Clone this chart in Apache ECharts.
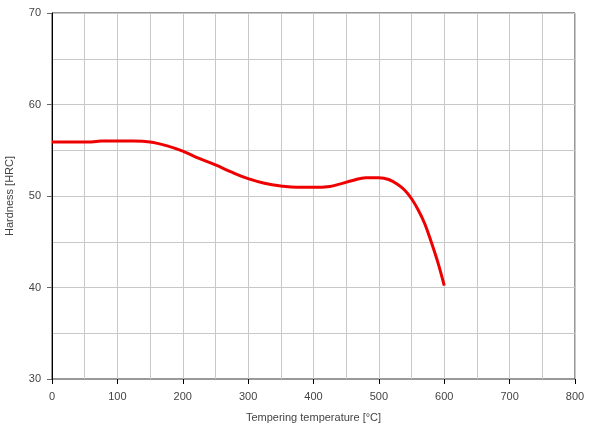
<!DOCTYPE html>
<html><head><meta charset="utf-8">
<script src="https://cdn.jsdelivr.net/npm/echarts@6/dist/echarts.min.js"></script>
<style>html,body{margin:0;padding:0;background:#fff}#c{width:593px;height:428px}</style>
</head><body><div id="c"></div>
<script>
const temps =    [0, 50, 60, 75, 100, 125, 150, 175, 200, 225, 250, 275, 300, 325, 350, 375, 400, 425, 440, 460, 480, 500, 515, 530, 540, 550, 560, 570, 580, 590, 600];
const hardness = [55.9, 55.9, 55.9, 56.0, 56.0, 56.0, 55.9, 55.5, 54.9, 54.1, 53.4, 52.6, 51.9, 51.4, 51.1, 50.95, 50.95, 51.05, 51.3, 51.7, 52.0, 52.0, 51.8, 51.2, 50.6, 49.7, 48.5, 47.0, 45.0, 42.8, 40.2];
const xTitle = 'Tempering temperature [°C]';
const yTitle = 'Hardness [HRC]';

const chart = echarts.init(document.getElementById('c'), null, {renderer: 'canvas'});
const font = 'Liberation Sans, Arial, sans-serif';
chart.setOption({
  animation: false,
  backgroundColor: '#fff',
  grid: {left: 52, right: 18, top: 13, bottom: 49, containLabel: false, outerBoundsMode: 'none',
         show: true, borderColor: '#333', borderWidth: 1, backgroundColor: 'transparent'},
  xAxis: {
    type: 'value', min: 0, max: 800, interval: 100,
    name: xTitle, nameLocation: 'middle', nameGap: 33,
    nameTextStyle: {fontFamily: font, fontSize: 11, color: '#444'},
    axisLine: {show: true, lineStyle: {color: '#999', width: 1}},
    axisTick: {show: true, length: 5, lineStyle: {color: '#000'}},
    axisLabel: {fontFamily: font, fontSize: 11, color: '#444', margin: 12},
    splitLine: {show: true, lineStyle: {color: '#c8c8c8', width: 1}},
    minorTick: {show: false, splitNumber: 2},
    minorSplitLine: {show: true, lineStyle: {color: '#c8c8c8', width: 1}}
  },
  yAxis: {
    type: 'value', min: 30, max: 70, interval: 10,
    name: yTitle, nameLocation: 'middle', nameGap: 37, nameRotate: 90,
    nameTextStyle: {fontFamily: font, fontSize: 11, color: '#444'},
    axisLine: {show: true, lineStyle: {color: '#000', width: 1}},
    axisTick: {show: true, length: 5, lineStyle: {color: '#666'}},
    axisLabel: {fontFamily: font, fontSize: 11, color: '#444', margin: 11},
    splitLine: {show: true, lineStyle: {color: '#c8c8c8', width: 1}},
    minorTick: {show: false, splitNumber: 2},
    minorSplitLine: {show: true, lineStyle: {color: '#c8c8c8', width: 1}}
  },
  series: [{
    type: 'line',
    data: temps.map((t, i) => [t, hardness[i]]),
    smooth: 0.4,
    symbol: 'none',
    lineStyle: {color: '#ee0000', width: 3},
    clip: false
  }]
});
</script></body></html>
